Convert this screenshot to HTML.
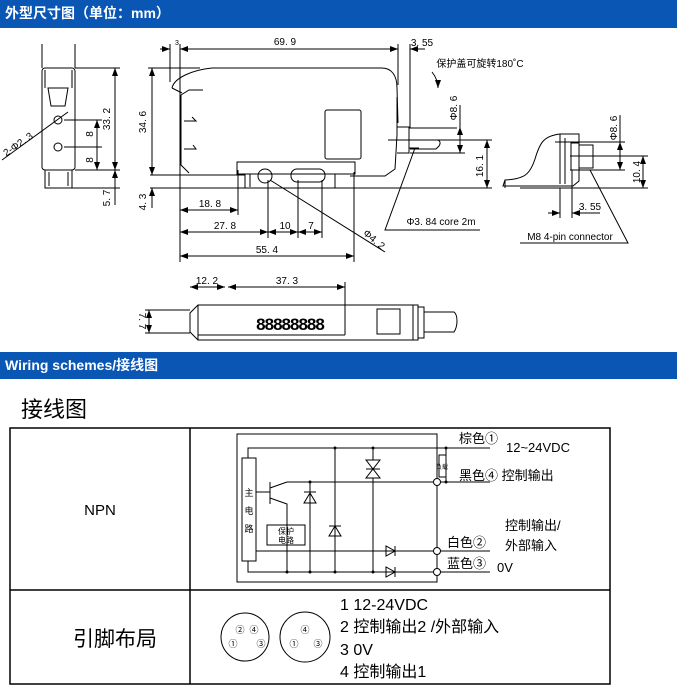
<!DOCTYPE html>
<html><head><meta charset="utf-8"><style>
body{margin:0;width:677px;height:693px;background:#fff;overflow:hidden;font-family:"Liberation Sans","Noto Sans CJK SC",sans-serif}
.bar{position:absolute;left:0;width:677px;background:#0a56b4;color:#fff;font-weight:bold;font-size:14px;line-height:26px;padding-left:5px;box-sizing:border-box}
svg{position:absolute;left:0;top:0}
</style></head><body>
<div class="bar" style="top:0;height:28px">外型尺寸图（单位：mm）</div>
<div class="bar" style="top:352px;height:27px">Wiring schemes/接线图</div>
<svg width="677" height="693" viewBox="0 0 677 693" font-family="Liberation Sans,Noto Sans CJK SC,sans-serif">
<defs><marker id="a" markerWidth="8" markerHeight="6" refX="8" refY="3" orient="auto-start-reverse"><path d="M0,0L8,3L0,6z" fill="#000"/></marker></defs>
<g stroke="#000" fill="none" stroke-width="1">
<line x1="42" y1="44" x2="42" y2="68"/><line x1="75" y1="44" x2="75" y2="68"/>
<rect x="42" y="68" width="33" height="102" rx="3"/>
<path d="M48 88h20l-3 18h-14z"/><line x1="45" y1="70" x2="45" y2="88"/><line x1="72" y1="70" x2="72" y2="88"/>
<circle cx="58" cy="120" r="4"/><circle cx="58" cy="147" r="4"/>
<path d="M45 170v18h27v-18M49 172v14M68 172v14"/>
<line x1="2" y1="160" x2="68" y2="112"/>
<line x1="64" y1="120" x2="102" y2="120"/><line x1="64" y1="147" x2="102" y2="147"/>
<line x1="97" y1="120" x2="97" y2="170" marker-start="url(#a)" marker-end="url(#a)"/>
<line x1="75" y1="68" x2="120" y2="68"/><line x1="75" y1="170" x2="120" y2="170"/><line x1="72" y1="188" x2="120" y2="188"/>
<line x1="115" y1="68" x2="115" y2="170" marker-start="url(#a)" marker-end="url(#a)"/>
<line x1="115" y1="170" x2="115" y2="205" marker-start="url(#a)"/>
<path d="M172 88c2-10 20-18 40-20h170c10 0 15 8 15 20l1 35"/>
<path d="M172 88l10 5M181 95l8-5h14"/>
<path d="M181 95v70l8 8M397 97v38l-2 34l-10 7h-35"/>
<rect x="325" y="110" width="36" height="49" rx="2"/>
<path d="M237 162h118v12h-118z"/><path d="M245 174v14h110M250 174v13M335 174v14"/>
<line x1="150" y1="175" x2="245" y2="175"/><line x1="150" y1="188" x2="250" y2="188"/>
<line x1="148" y1="68" x2="200" y2="68"/>
<circle cx="265" cy="176" r="7"/><rect x="291" y="169" width="34" height="13" rx="6"/>
<path d="M184 121h12l-4-4M184 149h12l-3 -4"/>
<line x1="152" y1="68" x2="152" y2="175" marker-start="url(#a)" marker-end="url(#a)"/>
<line x1="152" y1="188" x2="152" y2="208" marker-start="url(#a)"/>
<line x1="180" y1="44" x2="180" y2="262"/><line x1="170" y1="44" x2="170" y2="82"/>
<line x1="398" y1="44" x2="398" y2="85"/><line x1="410" y1="44" x2="410" y2="128"/>
<line x1="160" y1="49" x2="170" y2="49" marker-end="url(#a)"/><line x1="180" y1="49" x2="398" y2="49" marker-start="url(#a)" marker-end="url(#a)"/>
<line x1="410" y1="49" x2="425" y2="49" marker-start="url(#a)"/><line x1="388" y1="49" x2="398" y2="49"/>
<line x1="238" y1="170" x2="238" y2="215"/><line x1="268" y1="180" x2="268" y2="238"/><line x1="298" y1="180" x2="298" y2="238"/><line x1="322" y1="180" x2="322" y2="238"/><line x1="354" y1="172" x2="354" y2="262"/>
<line x1="180" y1="210" x2="238" y2="210" marker-start="url(#a)" marker-end="url(#a)"/>
<line x1="180" y1="232" x2="268" y2="232" marker-start="url(#a)" marker-end="url(#a)"/>
<line x1="268" y1="232" x2="298" y2="232" marker-start="url(#a)" marker-end="url(#a)"/>
<line x1="298" y1="232" x2="322" y2="232" marker-start="url(#a)" marker-end="url(#a)"/>
<line x1="180" y1="256" x2="354" y2="256" marker-start="url(#a)" marker-end="url(#a)"/>
<line x1="270" y1="180" x2="385" y2="252"/>
<path d="M397 127h12v26h-12M409 128h48M409 140h30M409 148h10" />
<path d="M407 140h30c3 0 4 3 2 6l-3 3h-26"/>
<line x1="388" y1="140" x2="492" y2="140"/><line x1="330" y1="188" x2="492" y2="188"/>
<line x1="460" y1="105" x2="460" y2="127"/><line x1="460" y1="127" x2="460" y2="153" marker-start="url(#a)" marker-end="url(#a)"/><line x1="410" y1="153" x2="465" y2="153"/>
<line x1="487" y1="140" x2="487" y2="188" marker-start="url(#a)" marker-end="url(#a)"/>
<path d="M415 148l-30 82h95"/>
<path d="M432 72c4 5 6 10 6 16" marker-end="url(#a)"/>
<path d="M560 134c-16 2-20 8-25 25c-5 15-10 20-30 21l-2 6h70l6-5l0-47z"/>
<path d="M505 180v8M560 134v50M565 138v46"/>
<rect x="571" y="143" width="8" height="27"/><rect x="579" y="145" width="14" height="23"/>
<line x1="555" y1="142" x2="625" y2="142"/><line x1="570" y1="156" x2="648" y2="156"/><line x1="570" y1="170" x2="625" y2="170"/><line x1="520" y1="188" x2="648" y2="188"/>
<line x1="620" y1="115" x2="620" y2="142"/><line x1="620" y1="142" x2="620" y2="170" marker-start="url(#a)" marker-end="url(#a)"/>
<line x1="643" y1="156" x2="643" y2="188" marker-start="url(#a)" marker-end="url(#a)"/>
<line x1="560" y1="188" x2="560" y2="218"/><line x1="572" y1="170" x2="572" y2="218"/>
<line x1="548" y1="213" x2="560" y2="213" marker-end="url(#a)"/><line x1="572" y1="213" x2="600" y2="213" marker-start="url(#a)"/>
<path d="M590 170l38 73h-108"/>
<line x1="145" y1="310" x2="190" y2="310"/><line x1="145" y1="333" x2="190" y2="333"/>
<line x1="149" y1="310" x2="149" y2="333" marker-start="url(#a)" marker-end="url(#a)"/>
<path d="M198 305h220v35h-220l-8-8v-19z"/><line x1="198" y1="305" x2="198" y2="340"/>
<line x1="345" y1="282" x2="345" y2="335"/><line x1="198" y1="335" x2="345" y2="335"/>
<rect x="377" y="309" width="23" height="25"/>
<path d="M413 305v35M418 307h6v31h-6M424 312h30c4 3 4 14 0 20h-30"/>
<line x1="190" y1="287" x2="225" y2="287" marker-start="url(#a)" marker-end="url(#a)"/>
<line x1="228" y1="287" x2="345" y2="287" marker-start="url(#a)" marker-end="url(#a)"/>
<rect x="10" y="428" width="600" height="256" stroke-width="1.5"/>
<line x1="10" y1="590" x2="610" y2="590" stroke-width="1.5"/><line x1="190" y1="428" x2="190" y2="684" stroke-width="1.5"/>
<rect x="237" y="434" width="200" height="148"/>
<rect x="242" y="458" width="14" height="103"/>
<path d="M248 458v-10h242M248 561v11h242M256 551h234M287 482h203"/>
<line x1="335" y1="448" x2="335" y2="572"/><line x1="373" y1="448" x2="373" y2="572"/><line x1="310" y1="482" x2="310" y2="572"/>
<path d="M256 492h14M270 482v22M270 488l17 -6M270 498l17 6v68"/>
<rect x="267" y="525" width="38" height="20"/>
<path d="M304 503h12l-6-10zM304 492h12M329 536h12l-6-10zM329 526h12"/>
<path d="M366 460h14l-7 9zM366 478h14l-7-9zM366 469h14" fill="#fff"/>
<path d="M386 546v10l9-5zM395 546v10M386 567v10l9-5zM395 567v10"/>
<rect x="439" y="455" width="7" height="22"/><line x1="446" y1="448" x2="446" y2="482"/>
<circle cx="437" cy="482" r="3.5" fill="#fff"/><circle cx="437" cy="551" r="3.5" fill="#fff"/><circle cx="437" cy="572" r="3.5" fill="#fff"/>
<circle cx="245" cy="637" r="24"/><circle cx="305" cy="637" r="25"/>
</g>
<g fill="#000" font-size="10" text-anchor="middle">
<circle cx="335" cy="448" r="1.5"/><circle cx="373" cy="448" r="1.5"/><circle cx="446" cy="448" r="1.5"/><circle cx="446" cy="482" r="1.5"/><circle cx="310" cy="482" r="1.5"/><circle cx="287" cy="572" r="1.5"/><circle cx="310" cy="572" r="1.5"/><circle cx="335" cy="572" r="1.5"/><circle cx="373" cy="572" r="1.5"/>
<text x="285" y="45">69. 9</text><text x="177" y="45" font-size="7">3</text><text x="422" y="46">3. 55</text>
<text x="480" y="67" font-size="10">保护盖可旋转180˚C</text>
<text transform="translate(110,119) rotate(-90)">33. 2</text><text transform="translate(93,134) rotate(-90)">8</text><text transform="translate(93,160) rotate(-90)">8</text><text transform="translate(110,198) rotate(-90)">5. 7</text>
<text transform="translate(146,122) rotate(-90)">34. 6</text><text transform="translate(146,202) rotate(-90)">4. 3</text>
<text transform="translate(20,147) rotate(-35)">2-Φ2. 3</text>
<text x="210" y="207">18. 8</text><text x="225" y="229">27. 8</text><text x="285" y="229">10</text><text x="311" y="229">7</text><text x="267" y="253">55. 4</text>
<text transform="translate(372,242) rotate(40)">Φ4. 2</text>
<text x="441" y="225">Φ3. 84 core 2m</text>
<text transform="translate(457,108) rotate(-90)">Φ8. 6</text><text transform="translate(483,166) rotate(-90)">16. 1</text>
<text transform="translate(617,128) rotate(-90)">Φ8. 6</text><text transform="translate(640,172) rotate(-90)">10. 4</text>
<text x="590" y="210">3. 55</text><text x="570" y="240">M8 4-pin connector</text>
<text x="207" y="284">12. 2</text><text x="287" y="284">37. 3</text>
<text transform="translate(139,321) rotate(90)">7. 7</text>
<text x="290" y="330" font-size="17" font-weight="bold" letter-spacing="-1">88888888</text>
<text x="21" y="417" font-size="22" text-anchor="start">接线图</text>
<text x="100" y="515" font-size="15">NPN</text>
<text x="249" y="496" font-size="9">主</text><text x="249" y="514" font-size="9">电</text><text x="249" y="532" font-size="9">路</text>
<text x="286" y="534" font-size="8">保护</text><text x="286" y="543" font-size="8">电路</text>
<text x="442" y="469" font-size="6">负载</text>
<g text-anchor="start" font-size="13"><text x="459" y="443">棕色①</text><text x="506" y="452">12~24VDC</text><text x="459" y="480">黑色④ 控制输出</text><text x="505" y="530">控制输出/</text><text x="505" y="550">外部输入</text><text x="447" y="547">白色②</text><text x="447" y="568">蓝色③</text><text x="497" y="572">0V</text></g>
<text x="115" y="646" font-size="21">引脚布局</text>
<g font-size="9"><text x="240" y="633">②</text><text x="254" y="633">④</text><text x="233" y="647">①</text><text x="261" y="647">③</text><text x="305" y="633">④</text><text x="294" y="647">①</text><text x="318" y="647">③</text></g>
<g text-anchor="start" font-size="16"><text x="340" y="610">1 12-24VDC</text><text x="340" y="632">2 控制输出2 /外部输入</text><text x="340" y="655">3 0V</text><text x="340" y="677">4 控制输出1</text></g>
</g>
</svg>
</body></html>
